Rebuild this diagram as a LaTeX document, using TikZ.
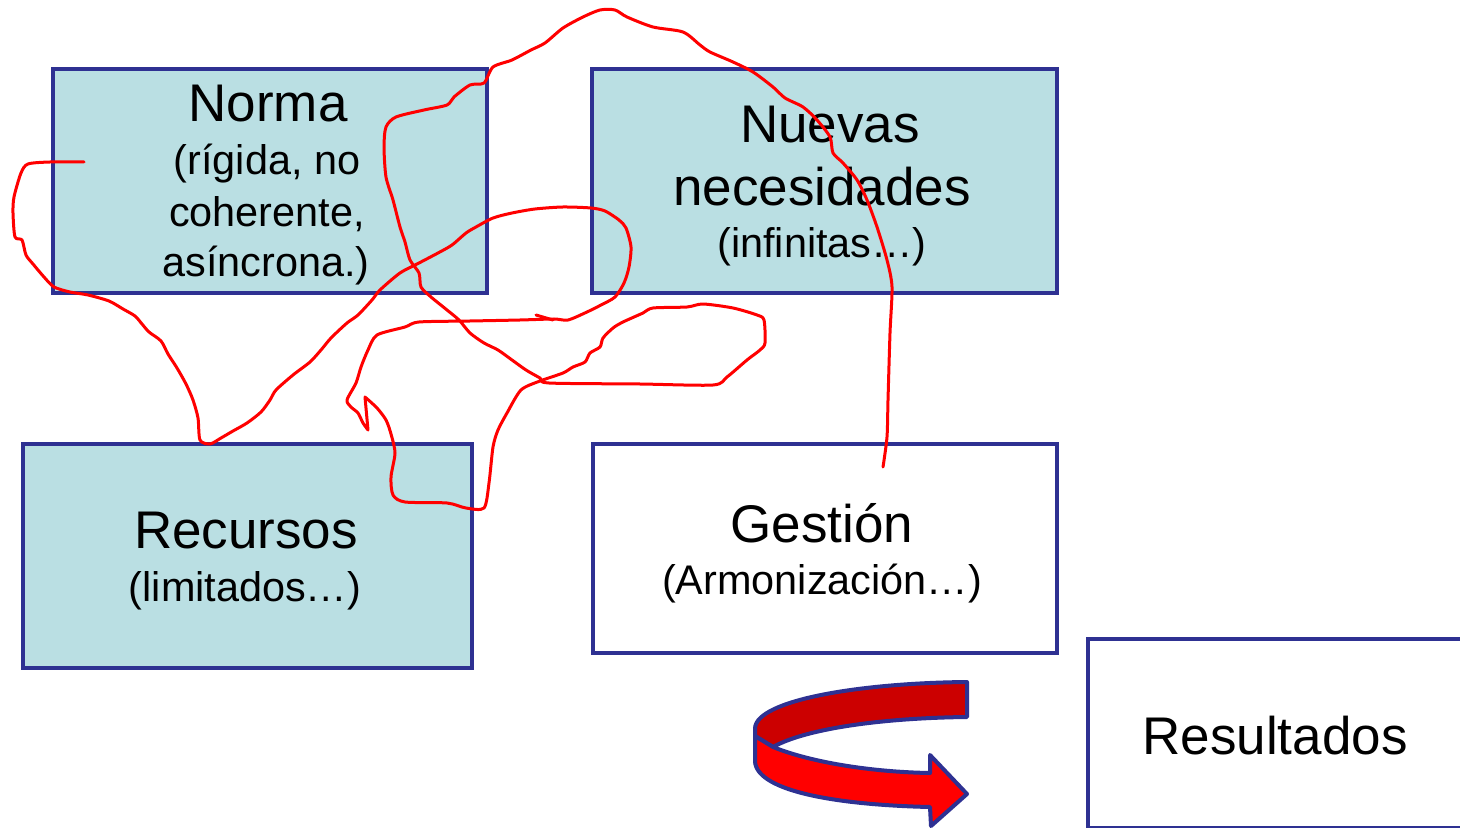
\documentclass[tikz,border=0pt]{standalone}
\usepackage{fontspec}
\setmainfont{Liberation Sans}
\definecolor{navy}{HTML}{2E3192}
\definecolor{paleteal}{HTML}{BADFE3}
\definecolor{darkred}{HTML}{CC0000}
\definecolor{penred}{HTML}{FF0000}
\tikzset{
  panel/.style={draw=navy, line width=2pt, rectangle, inner sep=0pt, anchor=north west},
  tinted/.style={panel, fill=paleteal},
  plain/.style={panel, fill=white},
  title/.style={anchor=base, inner sep=0pt, font=\fontsize{26.5pt}{31pt}\selectfont},
  note/.style={anchor=base, inner sep=0pt, font=\fontsize{20.7pt}{25pt}\selectfont},
  ribbon/.style={draw=navy, line width=2pt, line join=round},
  scribble/.style={draw=penred, line width=1.5pt, line cap=round, line join=round},
}
\begin{document}
\begin{tikzpicture}[x=0.5pt, y=-0.5pt]
\useasboundingbox (0,0) rectangle (1460,828);
\clip (0,0) rectangle (1460,828);
\fill[white] (0,0) rectangle (1460,828);

% boxes
\node[tinted, minimum width=217pt, minimum height=112pt] (norma) at (51,67) {};
\node[tinted, minimum width=232.5pt, minimum height=112pt] (nuevas) at (590,67) {};
\node[tinted, minimum width=224.5pt, minimum height=112pt] (recursos) at (21,442) {};
\node[plain, minimum width=232pt, minimum height=104.5pt] (gestion) at (591,442) {};
\node[plain, minimum width=200pt, minimum height=94.5pt] (resultados) at (1086,637) {};

% texts
\node[title] (tnorma) at (268,122) {Norma};
\node[note] (tnorma1) at (267,175) {(rígida, no};
\node[note] (tnorma2) at (267,227) {coherente,};
\node[note] (tnorma3) at (266,277) {asíncrona.)};

\node[title] (tnuevas1) at (830,143) {Nuevas};
\node[title] (tnuevas2) at (822,206) {necesidades};
\node[note] (tnuevas3) at (822,258) {(infinitas…)};

\node[title] (trecursos) at (246,548) {Recursos};
\node[note] (trecursos1) at (245,601) {(limitados…)};

\node[title] (tgestion) at (822,542) {Gestión};
\node[note] (tgestion1) at (822,594) {(Armonización…)};

\node[title] (tresultados) at (1275,754) {Resultados};

% curved ribbon arrow: back band
\path[ribbon, fill=darkred]
  (967,682) -- (967,717)
  .. controls (880,718) and (805,729) .. (773,747)
  -- (755,736) -- (755,728)
  .. controls (757,700) and (860,683) .. (967,682) -- cycle;
% front band with head
\path[ribbon, fill=penred]
  (755,736) -- (773,747)
  .. controls (810,762) and (870,772) .. (930,773)
  -- (930,755) -- (967,794) -- (931,826) -- (930,807)
  .. controls (840,805) and (758,792) .. (755,762) -- cycle;

% freehand red pen stroke
\draw[scribble]
  plot[smooth, tension=0.45] coordinates {
    (84,162) (50,162) (28,164) (21,173) (14,197) (13,213) (15,237) (22,240)
    (26,255) (33,264) (44,277) (54,287) (70,292) (88,295) (109,301) (123,309)
    (135,316) (142,324) (149,332) (161,341) (168,354) (177,368) (186,384)
    (193,400) (198,418) (200,440) (210,444) (221,438) (233,431) (247,423)
    (261,412) (270,400) (276,390) (293,375) (310,362) (321,350) (331,338)
    (347,323) (358,315) (372,300) (380,290) (400,273) (419,263) (438,253)
    (452,245) (466,233) (476,227) (493,218) (512,213) (535,209) (563,207)
    (591,208) (605,211) (619,220) (626,228) (631,247) (629,267) (624,283)
    (615,297) (601,305) (587,312) (568,320) (554,319) (520,320) (470,321)
    (419,322) (405,327) (377,335) (368,350) (361,367) (356,383) (347,400)
    (351,407) (358,413) (363,423) (368,430)}
  -- (365,397)
  -- plot[smooth, tension=0.45] coordinates {
    (365,397) (377,408) (386,420) (391,434) (395,453) (391,477) (393,495)
    (405,502) (447,503) (466,508) (484,508) (489,483) (493,447) (498,430)
    (507,413) (521,390) (540,381) (563,373) (573,367) (585,362) (590,353)
    (600,347) (603,338) (613,328) (623,322) (643,313) (653,308) (687,307)
    (703,304) (733,308) (757,315) (764,320) (765,343) (760,350) (747,360)
    (727,377) (713,385) (640,384) (549,383) (540,378) (526,370) (512,360)
    (498,350) (484,343) (470,333) (459,320) (447,310) (431,297) (421,287)
    (419,273) (410,260) (405,242) (400,227) (393,200) (386,177) (384,147)
    (386,127) (396,117) (424,110) (447,105) (454,97) (470,85) (484,83)
    (493,67) (512,60) (531,50) (545,43) (563,28) (583,17) (600,10) (615,10)
    (627,17) (653,27) (683,32) (700,45) (710,52) (733,62) (753,72) (773,87)
    (785,98) (803,107) (817,120) (830,137) (833,153) (843,163) (857,180)
    (867,200) (877,227) (887,260) (892,287) (890,333) (888,400) (887,437)
    (883,467)};
\draw[scribble] (536,315) -- (553,320);
\end{tikzpicture}
\end{document}
